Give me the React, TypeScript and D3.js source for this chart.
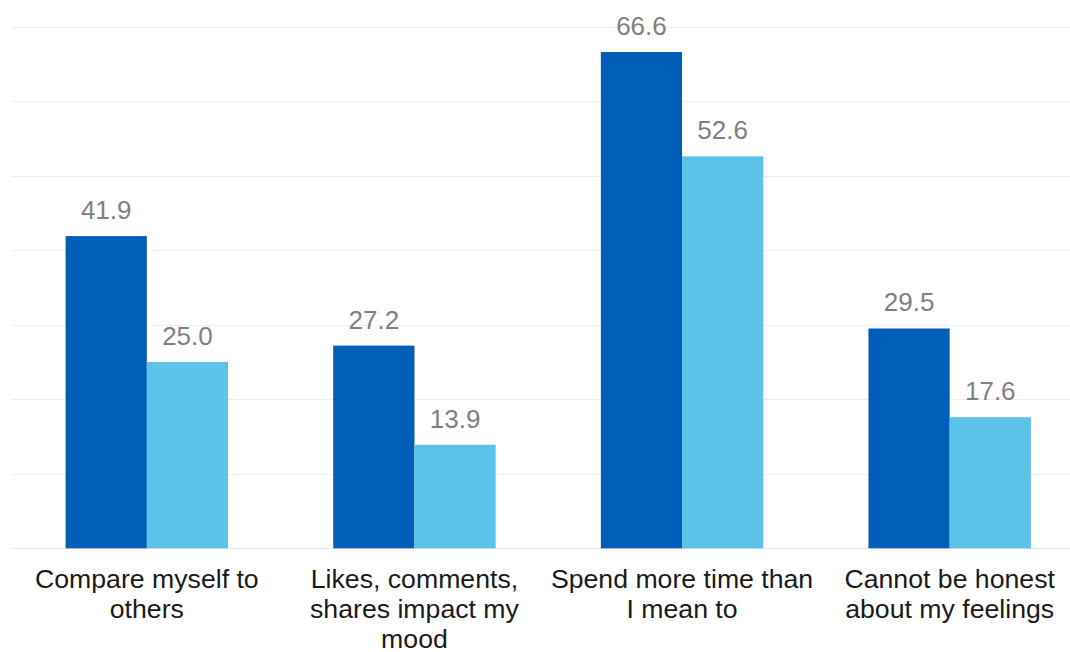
import React from "react";
import * as d3 from "d3";

// Survey responses, percent agreeing, per statement
const categories: string[] = [
  "Compare myself to\nothers",
  "Likes, comments,\nshares impact my\nmood",
  "Spend more time than\nI mean to",
  "Cannot be honest\nabout my feelings",
];
const seriesNames: string[] = ["Group A", "Group B"];
const seriesA: number[] = [41.9, 27.2, 66.6, 29.5];
const seriesB: number[] = [25.0, 13.9, 52.6, 17.6];
const yTicks: number[] = [0, 10, 20, 30, 40, 50, 60, 70];

const W = 1070;
const H = 652;
const COLORS = ["#005EB8", "#5BC2E8"];

export default function App() {
  const x0 = d3
    .scaleBand<string>()
    .domain(categories)
    .range([13, 1083.5])
    .paddingInner(0.393)
    .paddingOuter(0.1966);
  const x1 = d3
    .scaleBand<string>()
    .domain(seriesNames)
    .range([0, x0.bandwidth()])
    .padding(0);
  const y = d3.scaleLinear().domain([0, 70]).range([548.3, 26.7]);

  const series = [seriesA, seriesB];

  return (
    <div style={{ position: "absolute", left: 0, top: 0 }}>
      <svg width={W} height={H} style={{ display: "block", background: "#ffffff" }}>
        {yTicks.map((t) => (
          <line
            key={t}
            x1={12}
            x2={W}
            y1={Math.round(y(t)) + 0.5}
            y2={Math.round(y(t)) + 0.5}
            stroke={t === 0 ? "#e6e6e6" : "#efefef"}
            strokeWidth={1}
          />
        ))}
        {categories.map((c, i) => (
          <g key={c} transform={`translate(${x0(c)},0)`}>
            {seriesNames.map((s, k) => {
              const v = series[k][i];
              const bx = x1(s)!;
              return (
                <g key={s}>
                  <rect
                    x={bx}
                    y={y(v)}
                    width={x1.bandwidth()}
                    height={y(0) - y(v)}
                    fill={COLORS[k]}
                  />
                  <text
                    x={bx + x1.bandwidth() / 2}
                    y={y(v) - 17}
                    textAnchor="middle"
                    fontFamily="'Liberation Sans', Arial, sans-serif"
                    fontSize={26}
                    fill="#808080"
                  >
                    {v.toFixed(1)}
                  </text>
                </g>
              );
            })}
            {c.split("\n").map((line, li) => (
              <text
                key={li}
                x={x0.bandwidth() / 2}
                y={588 + li * 30}
                textAnchor="middle"
                fontFamily="'Liberation Sans', Arial, sans-serif"
                fontSize={26.67}
                fill="#1a1a1a"
              >
                {line}
              </text>
            ))}
          </g>
        ))}
      </svg>
    </div>
  );
}
